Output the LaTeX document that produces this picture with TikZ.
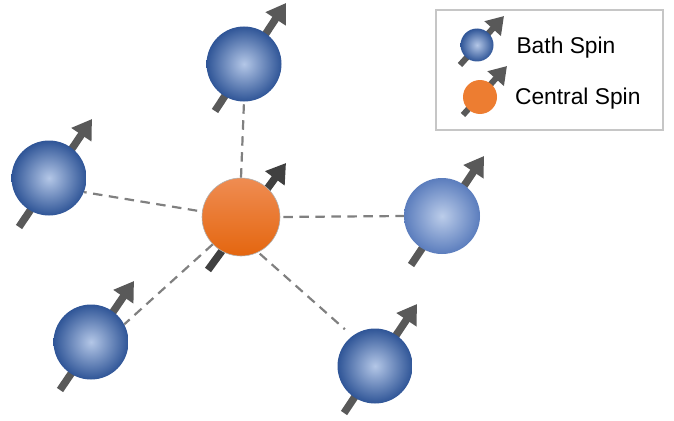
\documentclass[tikz,border=0pt]{standalone}
\usepackage{fontspec}
\setmainfont{Liberation Sans}
\usetikzlibrary{positioning,arrows.meta}

\definecolor{bathedge}{HTML}{2F5597}
\definecolor{bathmid}{HTML}{B4C7E7}
\definecolor{paleedge}{HTML}{5B7DBD}
\definecolor{coreorange}{HTML}{F37A24}
\definecolor{coretop}{HTML}{EF8C52}
\definecolor{corelow}{HTML}{E4660F}
\definecolor{legendorange}{HTML}{ED7D31}

\begin{document}
\begin{tikzpicture}[
  x=1pt, y=-1pt,
  bath/.style={circle, inner sep=0pt, minimum size=75pt, inner color=bathmid, outer color=bathedge},
  palebath/.style={bath, minimum size=76pt, inner color=bathmid!90!white, outer color=paleedge},
  central/.style={circle, inner sep=0pt, minimum size=78pt, top color=coretop,
                  middle color=coreorange, bottom color=corelow,
                  draw=gray!60, line width=0.6pt},
  legbath/.style={bath, minimum size=33pt},
  legcentral/.style={circle, inner sep=0pt, minimum size=34pt, fill=legendorange},
  link/.style={dash pattern=on 9.5pt off 6.5pt, draw=gray, line width=2.2pt},
  spinarrow/.style={-{Triangle[length=19pt,width=23pt]}, line width=7.5pt, draw=black!65},
  corearrow/.style={spinarrow, draw=black!75},
  legarrow/.style={-{Triangle[length=17pt,width=21pt]}, line width=6pt, draw=black!65},
  legtext/.style={font=\fontsize{22.8}{27}\selectfont, anchor=west}
]
\useasboundingbox (0,0) rectangle (674,420);

% where the spins sit
\coordinate (ptop) at (244,64);
\coordinate (pleft) at (49,178);
\coordinate (pright) at (442,216);
\coordinate (plowl) at (91,342);
\coordinate (plowr) at (375,366);

% tails and tips of the spin arrows
\coordinate (atop0) at (215,111);
\coordinate (atop1) at (286,3);
\coordinate (aleft0) at (19,227);
\coordinate (aleft1) at (92,119);
\coordinate (aright0) at (411,265);
\coordinate (aright1) at (484,156);
\coordinate (alowl0) at (60,390);
\coordinate (alowl1) at (134,281);
\coordinate (alowr0) at (344,413);
\coordinate (alowr1) at (417,304);
\coordinate (acore0) at (208,270);
\coordinate (acore1) at (286,163);
\coordinate (alegb0) at (460,65);
\coordinate (alegb1) at (504,16);
\coordinate (alegc0) at (463,115);
\coordinate (alegc1) at (507,66);

\node[draw=gray!45, line width=1.2pt, minimum width=227pt, minimum height=120pt, inner sep=0pt] (legend) at (549.5,70) {};

% arrows first, the spheres cover their middle part
\draw[spinarrow] (atop0) -- (atop1);
\draw[spinarrow] (aleft0) -- (aleft1);
\draw[spinarrow] (aright0) -- (aright1);
\draw[spinarrow] (alowl0) -- (alowl1);
\draw[spinarrow] (alowr0) -- (alowr1);
\draw[corearrow] (acore0) -- (acore1);
\draw[legarrow] (alegb0) -- (alegb1);
\draw[legarrow] (alegc0) -- (alegc1);

\node[bath] (top) at (ptop) {};
\node[bath] (left) at (pleft) {};
\node[palebath] (right) at (pright) {};
\node[bath] (lowl) at (plowl) {};
\node[bath] (lowr) at (plowr) {};
\node[central] (core) at (241,217) {};

\draw[link] (core.90) -- (top.-90);
\draw[link, shorten <=5pt] (core.172) -- (left.-22);
\draw[link, shorten <=3pt] (core.0) -- (right.180);
\draw[link] (core.224) -- (lowl.28);
\draw[link, shorten <=2pt, shorten >=10pt] (core.-64) -- (lowr.127);

\node[legbath] (legb) at (477,45) {};
\node[legcentral] (legc) at (480,97) {};
\node[legtext] (bathlabel) at (513,47.5) {Bath Spin};
\node[legtext] (corelabel) at (511.5,98.5) {Central Spin};
\end{tikzpicture}
\end{document}
